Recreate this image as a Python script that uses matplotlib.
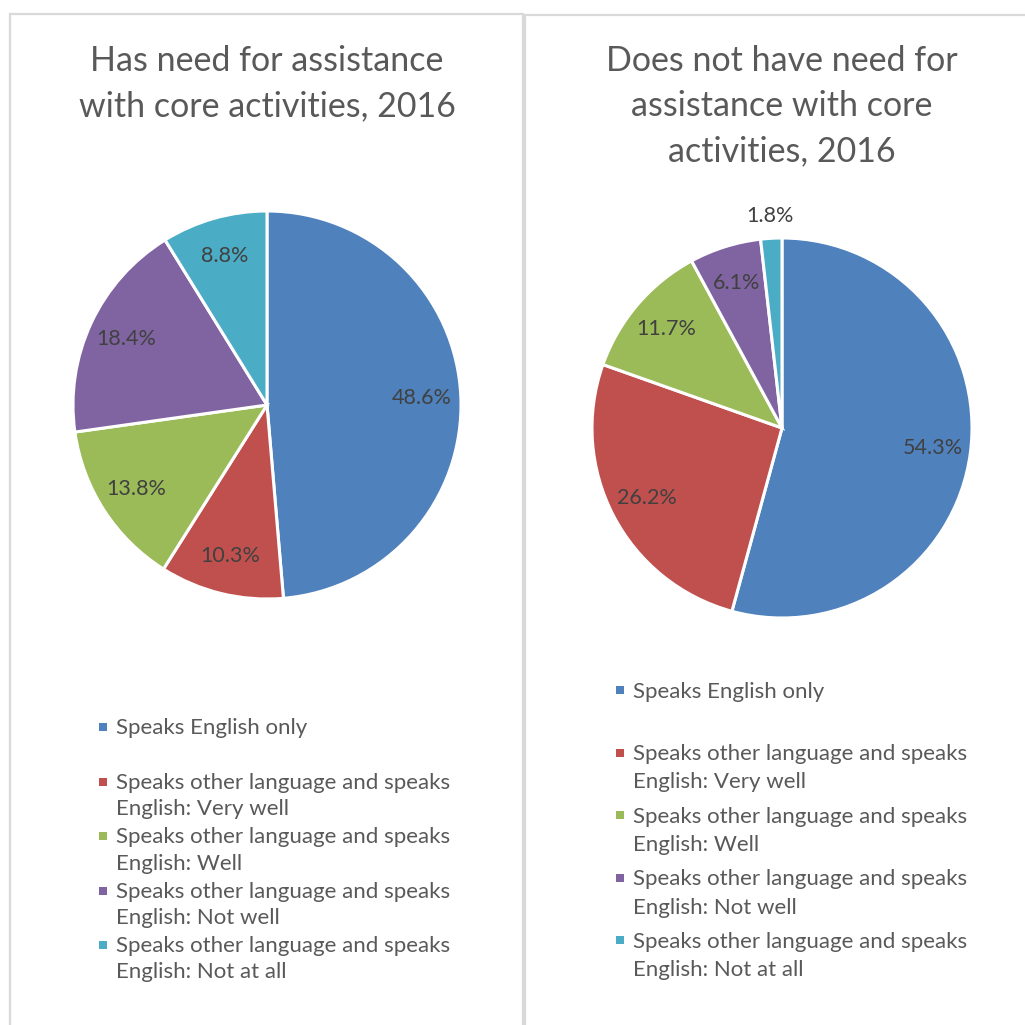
import matplotlib
matplotlib.use("Agg")
import matplotlib.pyplot as plt
from matplotlib.patches import Rectangle
import numpy as np

plt.rcParams['font.family'] = ['Lato', 'DejaVu Sans']

categories = [
    "Speaks English only",
    "Speaks other language and speaks\nEnglish: Very well",
    "Speaks other language and speaks\nEnglish: Well",
    "Speaks other language and speaks\nEnglish: Not well",
    "Speaks other language and speaks\nEnglish: Not at all",
]
has_need = [48.6, 10.3, 13.8, 18.4, 8.8]
no_need = [54.3, 26.2, 11.7, 6.1, 1.8]
titles = ["Has need for assistance\nwith core activities, 2016",
          "Does not have need for\nassistance with core\nactivities, 2016"]
colors = ["#4F81BD", "#C0504D", "#9BBB59", "#8064A2", "#4BACC6"]

W = H = 1025
fig = plt.figure(figsize=(10.25, 10.25), dpi=100)
fig.patch.set_facecolor("white")

def fx(px): return px / W
def fy(py): return 1 - py / H

# panel borders
for (x0, x1, y0) in [(10, 523, 14), (525, 1030, 15)]:
    fig.add_artist(Rectangle((fx(x0), -0.01), fx(x1) - fx(x0), fy(y0) + 0.01,
                             transform=fig.transFigure, fill=False,
                             edgecolor="#D9D9D9", lw=1.6))

panels = [
    dict(vals=has_need, cx=267, cy=405, r=194, title=titles[0],
         legx=103, legy=727, step=54.5, ls=1.38, pitch=26),
    dict(vals=no_need, cx=782, cy=428, r=190, title=titles[1],
         legx=620, legy=690, step=62.5, ls=1.52, pitch=28.5),
]
title_pitch = 45

for p in panels:
    r = p["r"]
    ax = fig.add_axes([fx(p["cx"] - r), fy(p["cy"] + r), 2 * r / W, 2 * r / H])
    wedges, _ = ax.pie(p["vals"], colors=colors, startangle=90, counterclock=False,
                       radius=1.0, wedgeprops=dict(edgecolor="white", linewidth=2.2))
    ax.set_xlim(-1, 1); ax.set_ylim(-1, 1); ax.set_aspect("equal"); ax.axis("off")
    for w, v in zip(wedges, p["vals"]):
        ang = np.deg2rad((w.theta1 + w.theta2) / 2)
        d = 1.12 if v < 3 else 0.8
        ax.text(d * np.cos(ang), d * np.sin(ang), f"{v:.1f}%", ha="center", va="center",
                fontsize=15.5, color="#404040")
    nt = p["title"].count("\n")
    fig.text(fx(p["cx"]), fy(71 + nt * title_pitch), p["title"], ha="center", va="baseline",
             fontsize=24.5, color="#595959", linespacing=1.5)
    for i, (lab, c) in enumerate(zip(categories, colors)):
        yc = p["legy"] + i * p["step"]
        fig.add_artist(Rectangle((fx(p["legx"] - 4), fy(yc + 4)), 8 / W, 8 / H,
                                 transform=fig.transFigure, facecolor=c, edgecolor="none"))
        nl = lab.count("\n")
        fig.text(fx(p["legx"] + 13), fy(yc + 7.5 + nl * p["pitch"]), lab, ha="left",
                 va="baseline", fontsize=16, color="#595959", linespacing=p["ls"])

fig.savefig("out.png", dpi=100, facecolor="white")
